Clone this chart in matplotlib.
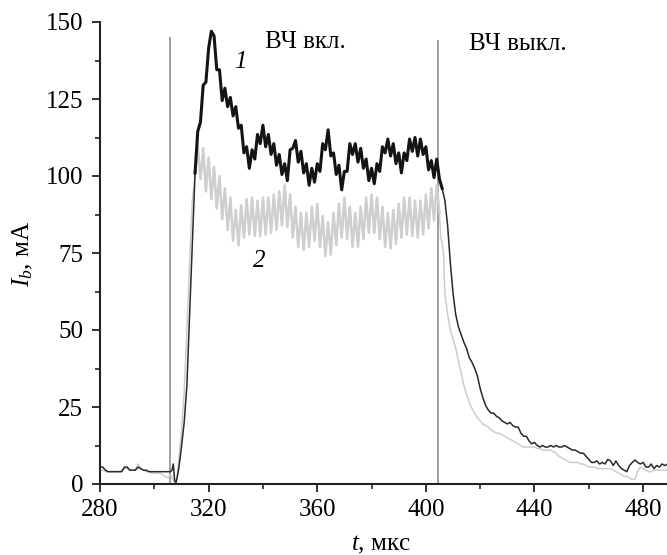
import numpy as np
import matplotlib
matplotlib.use('Agg')
import matplotlib.pyplot as plt
from matplotlib.ticker import MultipleLocator

plt.rcParams['font.family'] = ['Liberation Serif', 'DejaVu Serif']
plt.rcParams['mathtext.fontset'] = 'custom'
plt.rcParams['mathtext.rm'] = 'Liberation Serif'
plt.rcParams['mathtext.it'] = 'Liberation Serif:italic'

# ---------------- data ----------------
# curve 1 (black)
c1_pre = [5.5, 5.5, 4.5, 4, 4, 4, 4, 4, 4, 5.5, 5.5, 4.5, 4.5, 4.5, 5.5, 5, 4.5, 4.5,
          4, 4, 4, 4, 4, 4, 4, 4, 4]                       # 280..306
c1_tr_t = [306.5, 307, 307.5, 308, 308.5]
c1_tr = [4.5, 6.5, 1, 0.5, 2.5]
c1_on = [5, 12, 20, 32, 55, 78, 101,                          # 309..315
         114.5, 117.5, 129.5, 130.5, 141.5, 147, 145.5, 134.5, 134.5, 124.5,
         128.5, 122.5, 125.5, 119.5, 122.5, 115.5, 116.5, 107.5, 109.5, 102.5,
         108.5, 105.5, 113.5, 110.5, 116.5, 109.5, 113.5, 107, 110.5, 103.5,
         107, 100.5, 104, 98.5, 108.5, 109, 111.5, 104.5, 108, 101,
         104, 97, 102.5, 98, 104, 101.5, 110.5, 108.5, 115, 106.5,
         107.5, 100.5, 103.5, 95.5, 101.5, 101.5, 110.5, 107, 110.5, 104.5,
         109, 102.5, 105.5, 98.5, 102.5, 97.5, 104, 101.5, 109.5, 107.5,
         112, 106.5, 110.5, 104, 107.5, 101, 107.5, 105, 112, 108,
         112.5, 106.5, 112, 107, 109.5, 102, 105, 99.5, 105.5, 99]   # 316..405
c1_off = [96, 92, 84, 72, 62, 55, 51, 48.5, 46, 44, 41, 39.5, 37.5, 35, 31, 28, 25.5,
          24, 23, 23, 22, 21.5, 20.5, 20, 19.5, 20, 19, 18.5, 18.5, 16.5, 15.5, 15.5,
          14, 13, 13.5, 12.5, 12, 12.5, 12, 12, 12.5, 12, 12.5, 12, 12, 12.5, 12, 11.5,
          11, 11, 10.5, 10, 10, 9, 8, 7, 7, 7.5, 6.5, 7, 6.5, 8, 7.5, 6, 7.5, 6, 5,
          4.5, 4, 6, 7, 7.8, 7, 6.5, 7, 5.5, 5.5, 6.5, 5, 6, 5.5, 6.5, 6, 6.5]  # 406..

# curve 2 (light grey)
c2_pre = [4.5, 4.5, 4, 4, 4, 4, 4, 4, 4.5, 5, 5, 4.5, 4.5, 4.5, 6.5, 5, 4.5, 4,
          4, 3.5, 3.5, 3.5, 3.5, 3, 2.5, 2, 3]                 # 280..306
c2_tr_t = [306.5, 307, 307.5, 308, 308.5]
c2_tr = [2, 1.5, 0.5, 1, 3]
c2_on = [8, 17, 30, 50, 72, 92, 100,                          # 309..315
         110, 99, 109, 95, 106, 92.5, 103, 89.5, 100, 86,
         96, 82.5, 93, 79, 89, 77.5, 90.5, 80, 92.5, 81,
         93, 80.5, 92, 80.5, 93, 81, 93, 81.5, 94, 82.5,
         95, 84, 97, 83.5, 94, 80, 90, 77, 88, 76,
         88, 77, 90, 79, 91, 77, 87, 74, 85, 74.5,
         88, 77.5, 91, 80, 93, 79.5, 90, 77, 88, 77,
         90, 79.5, 93, 81.5, 94, 81.5, 93, 79.5, 90, 77,
         88, 76.5, 89, 78, 91, 80, 93, 81, 93, 80.5,
         92, 80, 92, 81, 94, 83, 96, 85.5, 97, 88]             # 316..405
c2_tr2_t = [405.5, 406, 406.5, 407]
c2_tr2 = [80, 78, 75, 62]
c2_off = [55, 50, 47, 44, 40, 36, 32, 29, 26.5, 24.5, 23, 21.5, 20.5, 19.5, 19, 18.5,
          17.5, 17, 16.5, 16.5, 16, 15.5, 15, 14.5, 14, 13.5, 13, 12.5, 12, 12, 12, 12,
          12, 11.5, 11.5, 11, 11, 11, 11, 10.5, 10, 9, 8.5, 8, 7.5, 7, 7, 7, 7, 6.5,
          6.5, 6, 5.5, 5.5, 5.5, 5, 5, 5, 5, 5, 5, 4.5, 4, 3.5, 3, 2.5, 2.5, 2, 1.5,
          1.5, 4, 5.5, 5, 4.5, 4, 4, 4.5, 4.5, 4.5, 4.5, 4.5, 4.5]          # 408..

rf_on, rf_off = 305.8, 404.6
x_ticks = [280, 320, 360, 400, 440, 480]
y_ticks = [0, 25, 50, 75, 100, 125, 150]

t1 = np.concatenate([280 + np.arange(len(c1_pre)), c1_tr_t,
                     309 + np.arange(len(c1_on)), 406 + np.arange(len(c1_off))])
i1 = np.concatenate([c1_pre, c1_tr, c1_on, c1_off])
t2 = np.concatenate([280 + np.arange(len(c2_pre)), c2_tr_t,
                     309 + np.arange(len(c2_on)), c2_tr2_t,
                     408 + np.arange(len(c2_off))])
i2 = np.concatenate([c2_pre, c2_tr, c2_on, c2_tr2, c2_off])

# ---------------- figure ----------------
fig = plt.figure(figsize=(6.67, 5.55), dpi=100)
ax = fig.add_axes([100/667, 71/555, 567/667, 462/555])

ax.vlines([rf_on, rf_off], 0, [145, 144], color='#9a9a9a', lw=1.3, zorder=1)

on2 = (t2 >= 315) & (t2 <= 405)
ax.plot(t2, i2, color='#cdcdcd', lw=1.1, zorder=2)
ax.plot(t2[on2], i2[on2], color='#cfcfcf', lw=1.8, zorder=2)

on1 = (t1 >= 315) & (t1 <= 406)
ax.plot(t1, i1, color='#2a2a2a', lw=1.1, zorder=3)
ax.plot(t1[on1], i1[on1], color='#141414', lw=2.2, zorder=3)

ax.set_xlim(280, 488.8)
ax.set_ylim(0, 150)
ax.set_xticks(x_ticks)
ax.set_yticks(y_ticks)
ax.xaxis.set_minor_locator(MultipleLocator(20))
ax.yaxis.set_minor_locator(MultipleLocator(12.5))
for s in ['top', 'right']:
    ax.spines[s].set_visible(False)
for s in ['left', 'bottom']:
    ax.spines[s].set_linewidth(1.5)
    ax.spines[s].set_color('#222222')
ax.tick_params(which='major', direction='out', length=6, width=1.3,
               labelsize=18, pad=5, color='#222222')
ax.tick_params(which='minor', direction='out', length=3.5, width=1.2, color='#222222')
ax.tick_params(axis='y', which='major', pad=6)

fs = 18
ax.text(355.5, 143.5, 'ВЧ вкл.', fontsize=fs, ha='center', va='center')
ax.text(434, 143, 'ВЧ выкл.', fontsize=fs, ha='center', va='center')
ax.text(331.6, 137, '1', fontsize=fs, style='italic', ha='center', va='center')
ax.text(338.6, 72.4, '2', fontsize=fs, style='italic', ha='center', va='center')

fig.text(23/667, 1 - 254/555, r'$I_b$, мА', fontsize=fs, rotation=90,
         ha='center', va='center')
fig.text(381/667, 1 - 545/555, r'$t$, мкс', fontsize=fs, ha='center', va='center')

fig.savefig('out.png', dpi=100, facecolor='white')
